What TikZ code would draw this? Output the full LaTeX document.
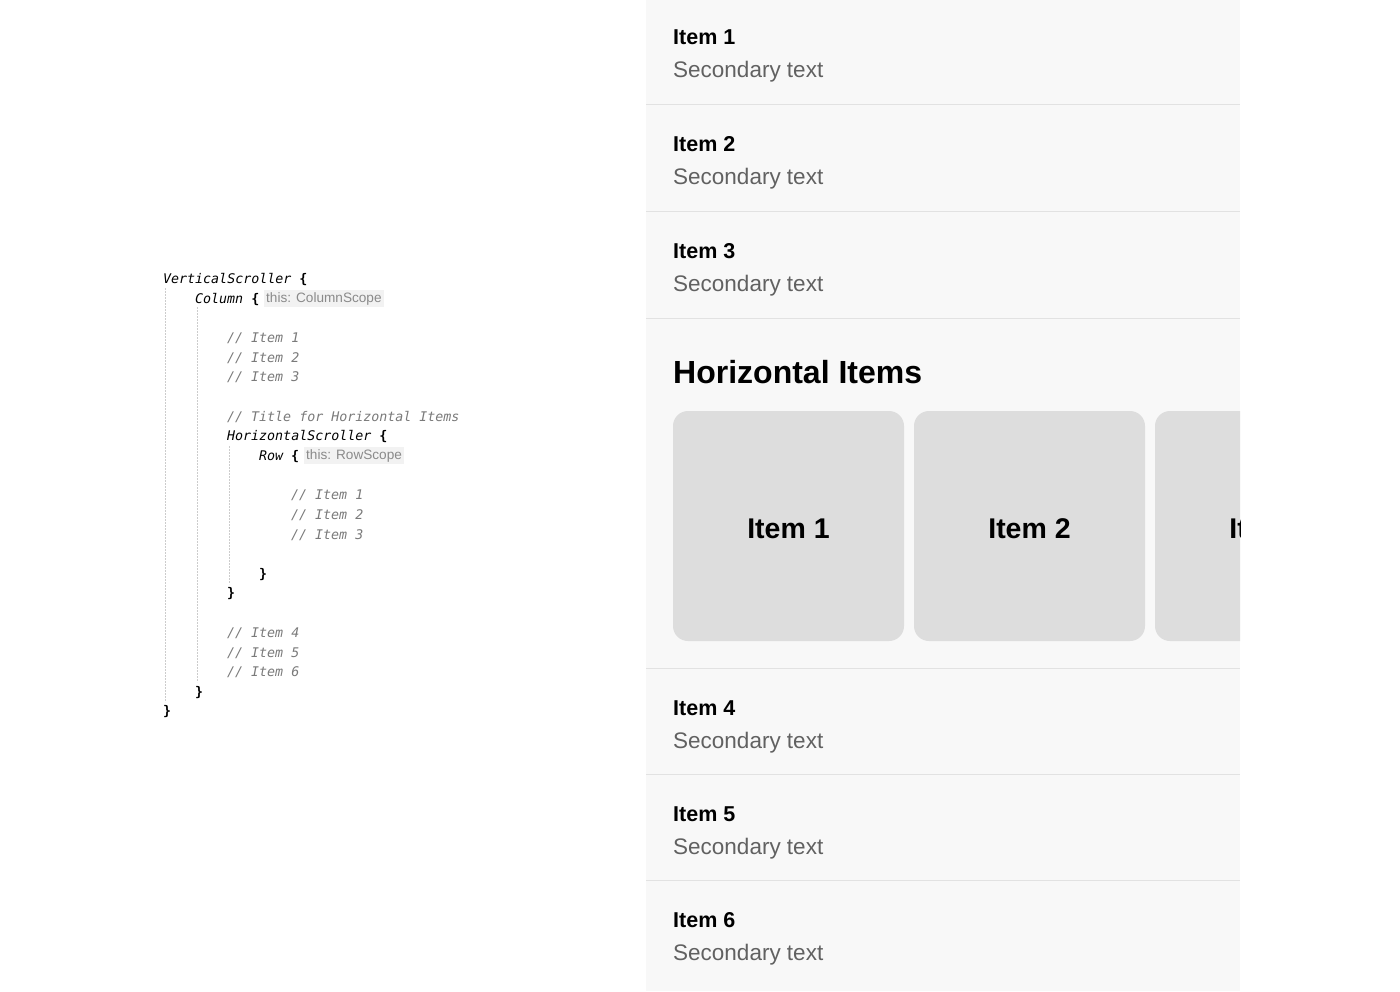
\documentclass[tikz,border=0pt]{standalone}
\usepackage{fontspec}
\setmainfont{Liberation Sans}
\setmonofont{DejaVu Sans Mono}
\definecolor{panelbg}{HTML}{F8F8F8}
\definecolor{divider}{HTML}{E2E2E2}
\definecolor{cardfill}{HTML}{DDDDDD}
\definecolor{secgray}{HTML}{616161}
\definecolor{cmtgray}{HTML}{7A7A7A}
\definecolor{guide}{HTML}{CCCCCC}
\definecolor{hintbg}{HTML}{F2F2F2}
\definecolor{hintfg}{HTML}{8A8A8A}
\tikzset{
  codeln/.style={anchor=base west, inner sep=0pt, font=\fontsize{13.3}{16}\selectfont\ttfamily\itshape, text=black},
  cmtln/.style={codeln, text=cmtgray},
  hint/.style={anchor=base west, inner xsep=2pt, inner ysep=2.5pt, fill=hintbg, text=hintfg, font=\fontsize{13.6}{15}\selectfont},
  guideline/.style={draw=guide, dashed, dash pattern=on 2pt off 1pt, line width=0.8pt},
  title/.style={anchor=base west, inner sep=0pt, font=\fontsize{21.5}{24}\selectfont\bfseries, text=black},
  second/.style={anchor=base west, inner sep=0pt, font=\fontsize{22.5}{26}\selectfont, text=secgray},
  divline/.style={draw=divider, line width=1pt},
  card/.style={fill=cardfill, rounded corners=15pt},
  cardlabel/.style={anchor=base, inner sep=0pt, font=\fontsize{28.5}{32}\selectfont\bfseries, text=black},
}
\newcommand{\br}{{\upshape\bfseries\{}}
\newcommand{\bc}{{\upshape\bfseries\}}}
\begin{document}
\begin{tikzpicture}[x=1pt,y=-1pt]
\useasboundingbox (0,0) rectangle (1400,991);
\fill[white] (0,0) rectangle (1400,991);
% ---------- code ----------
\draw[guideline] (165,288) coordinate (g1a) -- (165,702) coordinate (g1b);
\draw[guideline] (197,307) coordinate (g2a) -- (197,682) coordinate (g2b);
\draw[guideline] (229,446) coordinate (g3a) -- (229,584) coordinate (g3b);

\node[codeln] (c1) at (163,283) {VerticalScroller \br};
\node[codeln] (c2) at (195,303) {Column \br};
\node[hint] (h1) at (264,302) {this: ColumnScope};
\node[cmtln] (c3) at (227,342) {// Item 1};
\node[cmtln] (c4) at (227,362) {// Item 2};
\node[cmtln] (c5) at (227,381) {// Item 3};
\node[cmtln] (c6) at (227,421) {// Title for Horizontal Items};
\node[codeln] (c7) at (227,440) {HorizontalScroller \br};
\node[codeln] (c8) at (259,460) {Row \br};
\node[hint] (h2) at (304,459) {this: RowScope};
\node[cmtln] (c9) at (291,499) {// Item 1};
\node[cmtln] (c10) at (291,519) {// Item 2};
\node[cmtln] (c11) at (291,539) {// Item 3};
\node[codeln] (c12) at (259,578) {\bc};
\node[codeln] (c13) at (227,597) {\bc};
\node[cmtln] (c14) at (227,637) {// Item 4};
\node[cmtln] (c15) at (227,657) {// Item 5};
\node[cmtln] (c16) at (227,676) {// Item 6};
\node[codeln] (c17) at (195,696) {\bc};
\node[codeln] (c18) at (163,715) {\bc};

% ---------- phone panel ----------
\fill[panelbg] (646,0) rectangle (1240,991);
\foreach \yy in {104,211,318,668,774,880}{
  \draw[divline] (646,\yy) -- (1240,\yy);
}
\node[title] (t1) at (673,44) {Item 1};
\node[second] (s1) at (673,77) {Secondary text};
\node[title] (t2) at (673,151) {Item 2};
\node[second] (s2) at (673,184) {Secondary text};
\node[title] (t3) at (673,258) {Item 3};
\node[second] (s3) at (673,291) {Secondary text};

\node[anchor=base west, inner sep=0pt, font=\fontsize{32}{36}\selectfont\bfseries] (ht) at (673,383) {Horizontal Items};

\begin{scope}
\clip (646,318) rectangle (1240,668);
\fill[card] (673,411) rectangle (904,641);
\fill[card] (914,411) rectangle (1145,641);
\fill[card] (1155,411) rectangle (1386,641);
\node[cardlabel] (k1) at (788.5,538) {Item 1};
\node[cardlabel] (k2) at (1029.5,538) {Item 2};
\node[cardlabel] (k3) at (1270.5,538) {Item 3};
\end{scope}

\node[title] (t4) at (673,715) {Item 4};
\node[second] (s4) at (673,748) {Secondary text};
\node[title] (t5) at (673,821) {Item 5};
\node[second] (s5) at (673,854) {Secondary text};
\node[title] (t6) at (673,927) {Item 6};
\node[second] (s6) at (673,960) {Secondary text};
\end{tikzpicture}
\end{document}
